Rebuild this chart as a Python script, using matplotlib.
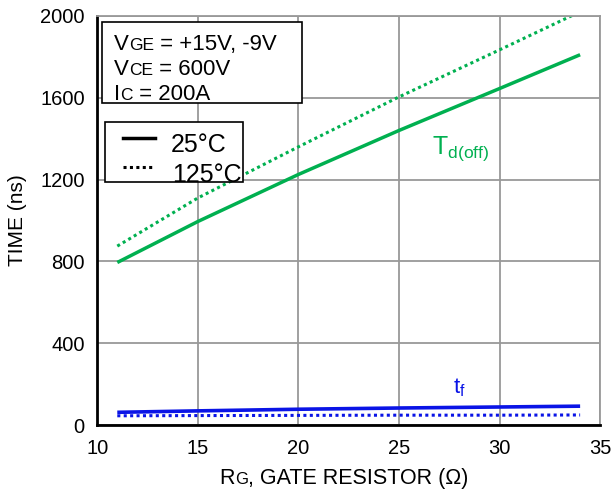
import matplotlib.pyplot as plt
from matplotlib.offsetbox import TextArea, HPacker, AnchoredOffsetbox
from matplotlib.patches import Rectangle
from matplotlib.lines import Line2D

plt.rcParams['font.family'] = ['Liberation Sans', 'DejaVu Sans']

# gate resistor values (ohm)
rg = [11, 15, 20, 25, 30, 34]

# switching times (ns)
td_off_25 = [795, 995, 1225, 1440, 1645, 1810]
td_off_125 = [875, 1110, 1360, 1604, 1834, 2020]
tf_25 = [63, 70, 78, 84, 89, 93]
tf_125 = [46, 47, 48, 49, 49, 50]

x_ticks = [10, 15, 20, 25, 30, 35]
y_ticks = [0, 400, 800, 1200, 1600, 2000]

# (text, subscript, rest) for the test-condition box
conditions = [("V", "GE", " = +15V, -9V"),
              ("V", "CE", " = 600V"),
              ("I", "C", " = 200A")]
temps = ["25°C", "125°C"]

green = "#00b050"
blue = "#0a14e6"
dots = (0, (1, 1.1))


def sub_text(main, sub, rest, size, sub_size):
    parts = [TextArea(main, textprops=dict(fontsize=size)),
             TextArea(sub, textprops=dict(fontsize=sub_size)),
             TextArea(rest, textprops=dict(fontsize=size))]
    return HPacker(children=parts, align="baseline", pad=0, sep=0)


def place(ax, child, loc, xy):
    box = AnchoredOffsetbox(loc=loc, child=child, pad=0, borderpad=0,
                            frameon=False, bbox_to_anchor=xy,
                            bbox_transform=ax.transAxes)
    box.set_zorder(6)
    ax.add_artist(box)


fig = plt.figure(figsize=(6.15, 4.95), dpi=100)
ax = fig.add_axes([0.158, 0.141, 0.818, 0.827])

ax.plot(rg, td_off_25, color=green, lw=2.5, solid_capstyle="butt")
ax.plot(rg, td_off_125, color=green, lw=2.2, ls=dots)
ax.plot(rg, tf_25, color=blue, lw=2.6, solid_capstyle="butt")
ax.plot(rg, tf_125, color=blue, lw=2.2, ls=dots)

ax.set_xlim(10, 35)
ax.set_ylim(0, 2000)
ax.set_xticks(x_ticks)
ax.set_yticks(y_ticks)
ax.grid(True, color="#999999", lw=1.3)
ax.tick_params(length=0, labelsize=14.5)
ax.tick_params(axis="x", pad=10)
ax.tick_params(axis="y", pad=9)

for s in ["top", "right"]:
    ax.spines[s].set_color("#999999")
    ax.spines[s].set_linewidth(1.3)
for s in ["left", "bottom"]:
    ax.spines[s].set_color("black")
    ax.spines[s].set_linewidth(2)

ax.set_ylabel("TIME (ns)", fontsize=15)
ax.yaxis.set_label_coords(-0.139, 0.5)

# x label with a subscript that is not lowered
place(ax, sub_text("R", "G", ", GATE RESISTOR (Ω)", 15.5, 12), "upper center",
      (0.49, -0.105))

# condition box
ax.add_patch(Rectangle((0.0099, 0.7873), 0.3976, 0.198, transform=ax.transAxes,
                       fc="white", ec="black", lw=1.2, zorder=4))
for i, (m, s, r) in enumerate(conditions):
    place(ax, sub_text(m, s, r, 16, 12.5), "lower left",
          (0.034, 0.9045 - i * 0.0611))

# temperature legend, drawn by hand so the label can run over the frame
ax.add_patch(Rectangle((0.0159, 0.5941), 0.2744, 0.1467, transform=ax.transAxes,
                       fc="white", ec="black", lw=1.2, zorder=4))
ax.add_line(Line2D([0.0517, 0.1153], [0.7017, 0.7017], transform=ax.transAxes,
                   color="black", lw=2.5, zorder=5))
ax.add_line(Line2D([0.0517, 0.1153], [0.6308, 0.6308], transform=ax.transAxes,
                   color="black", lw=2.2, ls=dots, zorder=5))
ax.text(0.1471, 0.6675, temps[0], transform=ax.transAxes, fontsize=18,
        va="baseline", zorder=6)
ax.text(0.149, 0.5941, temps[1], transform=ax.transAxes, fontsize=18,
        va="baseline", zorder=6)

ax.text(26.65, 1325, "T$_\\mathregular{d(off)}$", color=green, fontsize=18,
        va="baseline")
ax.text(27.7, 156, "t$_\\mathregular{f}$", color=blue, fontsize=16, va="baseline")

fig.savefig("out.png", dpi=100)
